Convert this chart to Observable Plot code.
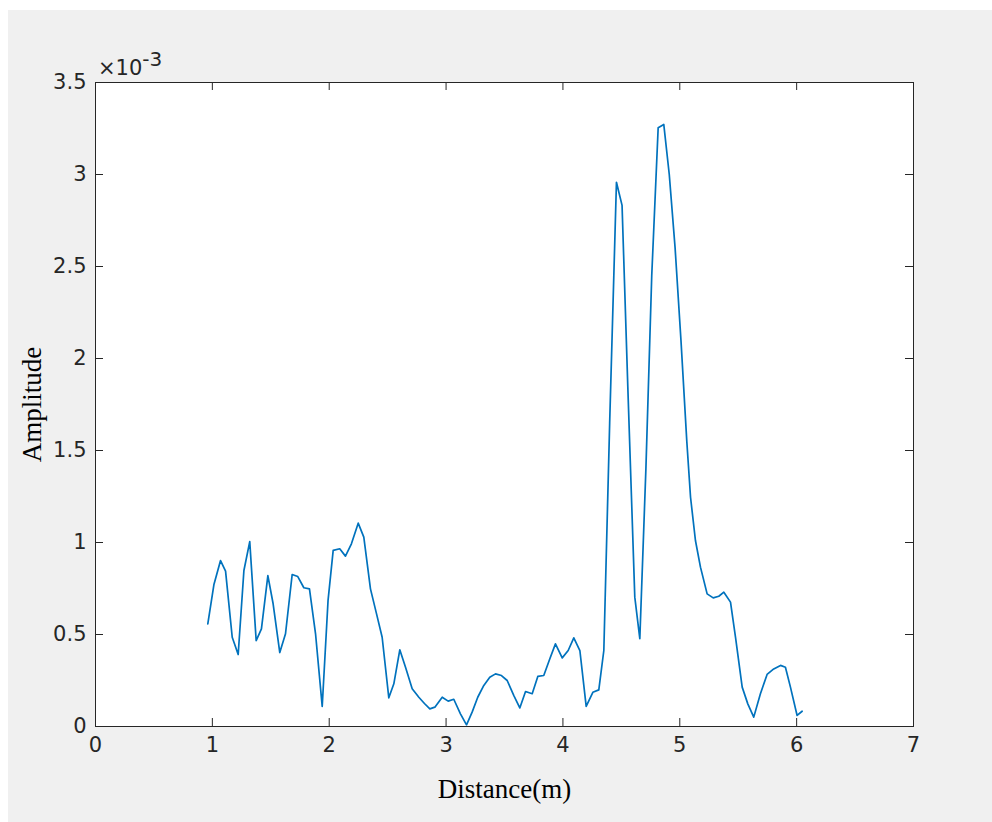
<!DOCTYPE html>
<html>
<head>
<meta charset="utf-8">
<script src="https://cdn.jsdelivr.net/npm/d3@7"></script>
<script src="https://cdn.jsdelivr.net/npm/@observablehq/plot@0.6"></script>
<style>
  html, body { margin: 0; padding: 0; background: #ffffff; width: 992px; height: 822px; overflow: hidden; }
  #bg { position: absolute; left: 8px; top: 10px; width: 984px; height: 812px; background: #f0f0f0; }
  #chart { position: absolute; left: 0; top: 0; }
</style>
</head>
<body>
<div id="bg"></div>
<div id="chart"></div>
<script>
// Distance (m)
const distance = [
  0.961, 1.013, 1.07, 1.113, 1.17, 1.221, 1.27, 1.32, 1.375, 1.42,
  1.475, 1.52, 1.577, 1.626, 1.683, 1.731, 1.783, 1.831, 1.883, 1.94,
  1.99, 2.034, 2.09, 2.139, 2.19, 2.248, 2.296, 2.353, 2.405, 2.453,
  2.51, 2.553, 2.604, 2.653, 2.71, 2.767, 2.815, 2.861, 2.904, 2.967,
  3.018, 3.066, 3.123, 3.175, 3.223, 3.271, 3.323, 3.374, 3.423, 3.474,
  3.523, 3.58, 3.631, 3.68, 3.737, 3.785, 3.836, 3.888, 3.936, 3.994,
  4.045, 4.093, 4.145, 4.199, 4.256, 4.307, 4.35, 4.40, 4.458, 4.506,
  4.555, 4.615, 4.658, 4.71, 4.76, 4.815, 4.863, 4.91, 4.96, 5.01,
  5.06, 5.092, 5.134, 5.177, 5.234, 5.286, 5.334, 5.377, 5.434, 5.477,
  5.534, 5.582, 5.633, 5.69, 5.747, 5.804, 5.862, 5.904, 5.947, 6.004,
  6.047
];
// Amplitude, in units of 10^-3
const amplitudeE3 = [
  0.558, 0.77, 0.902, 0.844, 0.485, 0.391, 0.848, 1.005, 0.467, 0.531,
  0.82, 0.667, 0.402, 0.504, 0.826, 0.815, 0.754, 0.748, 0.504, 0.109,
  0.685, 0.957, 0.966, 0.926, 0.993, 1.105, 1.029, 0.748, 0.612, 0.485,
  0.156, 0.232, 0.417, 0.322, 0.205, 0.159, 0.125, 0.096, 0.105, 0.159,
  0.138, 0.148, 0.069, 0.009, 0.078, 0.159, 0.223, 0.268, 0.286, 0.277,
  0.25, 0.168, 0.101, 0.19, 0.178, 0.272, 0.277, 0.368, 0.449, 0.373,
  0.413, 0.482, 0.413, 0.109, 0.186, 0.199, 0.413, 1.65, 2.958, 2.832,
  1.85, 0.703, 0.477, 1.40, 2.45, 3.254, 3.272, 3.0, 2.6, 2.1,
  1.55, 1.246, 1.011, 0.866, 0.721, 0.699, 0.708, 0.730, 0.676, 0.485,
  0.214, 0.123, 0.051, 0.178, 0.283, 0.313, 0.332, 0.322, 0.214, 0.06,
  0.083
];
const xTicks = [0, 1, 2, 3, 4, 5, 6, 7];
const yTicks = [0, 0.5, 1, 1.5, 2, 2.5, 3, 3.5];
const xLabel = "Distance(m)";
const yLabel = "Amplitude";
const exponentBase = "\u00d710";
const exponentPower = "-3";

const data = distance.map((d, i) => ({x: d, y: amplitudeE3[i]}));

const W = 992, H = 822;
const mL = 95, mR = 79, mT = 82, mB = 96;
const innerW = W - mL - mR, innerH = H - mT - mB;
const tick = 8;
const axisColor = "#262626";
const sans = "'DejaVu Sans', 'Liberation Sans', Arial, sans-serif";
const serif = "'Liberation Serif', 'Times New Roman', serif";

const chart = Plot.plot({
  width: W,
  height: H,
  marginLeft: mL,
  marginRight: mR,
  marginTop: mT,
  marginBottom: mB,
  style: {background: "transparent", color: axisColor, fontFamily: sans, fontSize: "21px", overflow: "visible"},
  x: {domain: [0, 7]},
  y: {domain: [0, 3.5]},
  marks: [
    Plot.frame({fill: "#ffffff", stroke: "none"}),
    Plot.line(data, {x: "x", y: "y", stroke: "#0072BD", strokeWidth: 1.7}),
    // inward ticks: bottom / top
    Plot.tickX(xTicks, {x: d => d, stroke: axisColor, insetTop: innerH - tick}),
    Plot.tickX(xTicks, {x: d => d, stroke: axisColor, insetBottom: innerH - tick}),
    // inward ticks: left / right
    Plot.tickY(yTicks, {y: d => d, stroke: axisColor, insetRight: innerW - tick}),
    Plot.tickY(yTicks, {y: d => d, stroke: axisColor, insetLeft: innerW - tick}),
    Plot.frame({stroke: axisColor, strokeWidth: 1}),
    Plot.axisX(xTicks, {tickSize: 0, tickPadding: 11, label: null, fontSize: 21, fill: axisColor, tickFormat: d => String(d)}),
    Plot.axisY(yTicks, {tickSize: 0, tickPadding: 9, label: null, fontSize: 21, fill: axisColor, tickFormat: d => String(d)}),
    Plot.text([xLabel], {frameAnchor: "bottom", dy: 71, fontFamily: serif, fontSize: 27, fill: "#000000"}),
    Plot.text([yLabel], {frameAnchor: "left", textAnchor: "middle", dx: -63, rotate: -90, fontFamily: serif, fontSize: 27, fill: "#000000"})
  ]
});

document.getElementById("chart").appendChild(chart);

// exponent label above the y axis
const svg = d3.select(chart);
const t = svg.append("text")
  .attr("x", mL + 3)
  .attr("y", mT - 7)
  .attr("text-anchor", "start")
  .attr("fill", axisColor)
  .attr("font-family", sans)
  .attr("font-size", 21);
t.append("tspan").text(exponentBase);
t.append("tspan").attr("dy", -9).attr("font-size", 20).text(exponentPower);
</script>
</body>
</html>
